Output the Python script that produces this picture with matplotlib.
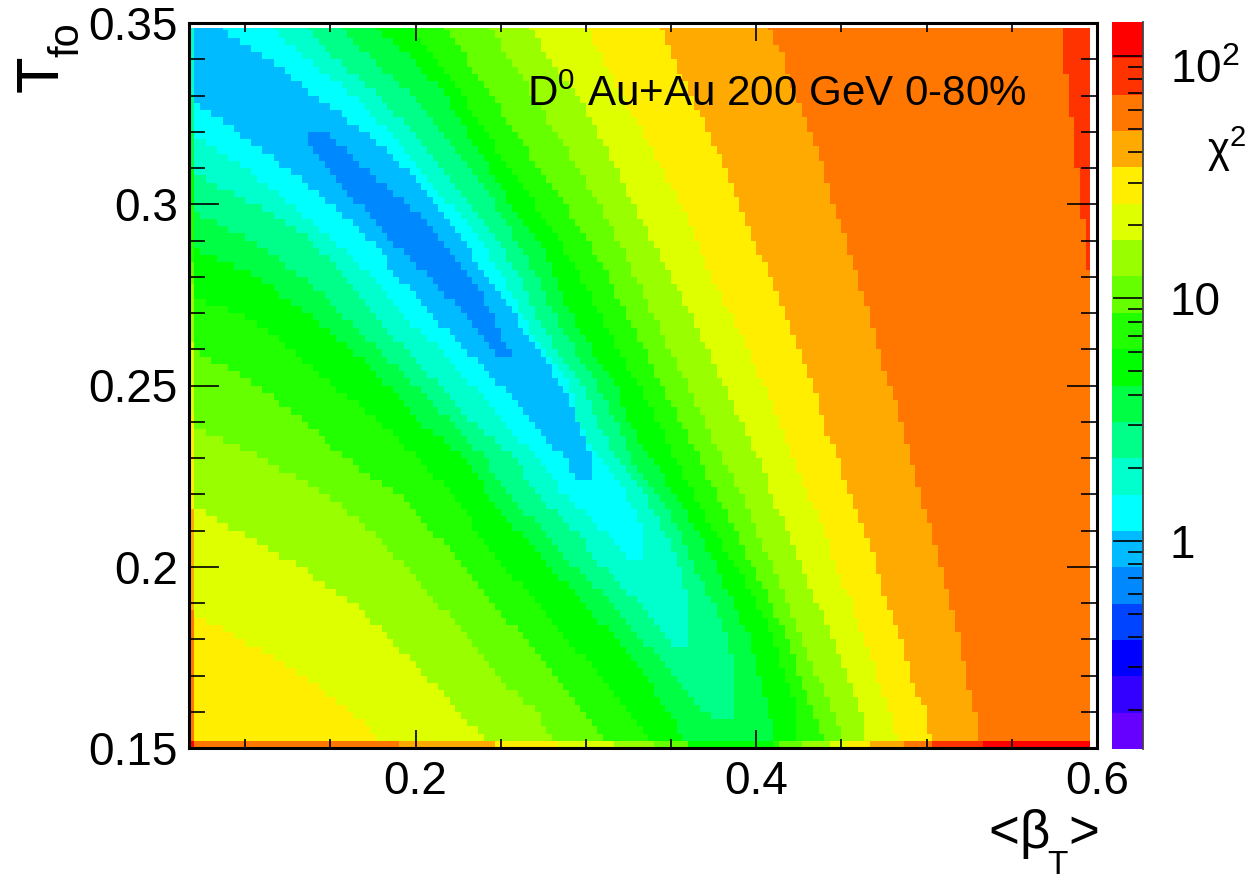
# Chi2 map of the blast-wave fit, D0 Au+Au 200 GeV
from matplotlib import pyplot as plt
from matplotlib.colors import ListedColormap
from matplotlib.path import Path
from matplotlib.ticker import FixedFormatter, FixedLocator, LogLocator, MultipleLocator, NullFormatter
import numpy as np

plt.rcParams['font.family'] = ['Liberation Sans', 'DejaVu Sans']
plt.rcParams['mathtext.fontset'] = 'custom'
plt.rcParams['mathtext.rm'] = 'Liberation Sans'
plt.rcParams['mathtext.it'] = 'Liberation Sans'
plt.rcParams['mathtext.bf'] = 'Liberation Sans'

# Colour bands of the palette, lowest chi2 first
band_colors = ['#6600ff', '#3300ff', '#0000ff', '#0044ff', '#0088ff', '#00bbff', '#00ffff',
               '#00ffcc', '#00ff88', '#00ff44', '#00ff00', '#22ff00', '#66ff00', '#99ff00',
               '#ddff00', '#ffee00', '#ffaa00', '#ff7700', '#ff3300', '#ff0000']
chi2_min = 0.138
chi2_max = 138.0

T_rows = [0.3486, 0.34, 0.33, 0.32, 0.31, 0.30, 0.29, 0.28, 0.27, 0.26, 0.25,
          0.24, 0.23, 0.22, 0.21, 0.20, 0.19, 0.18, 0.17, 0.16, 0.15]

# High beta side of each band, from the top row down
band16_right = [.4077, .4160, .4230, .4318, .4400, .4453, .4524, .4594, .4659, .4717, .4782,
                .4852, .4911, .4963, .5028, .5087, .5134, .5192, .5233, .5286, .5327]
band15_right = [.3445, .3521, .3615, .3714, .3814, .3908, .3984, .4090, .4160, .4254, .4342,
                .4389, .4477, .4553, .4641, .4706, .4764, .4846, .4905, .4993, .5034]
band14_right = [.3005, .3099, .3210, .3339, .3439, .3556, .3650, .3732, .3849, .3955, .4043,
                .4125, .4219, .4307, .4395, .4471, .4559, .4635, .4706, .4788, .4829]
band13_right = [.2670, .2782, .2958, .3063, .3175, .3280, .3385, .3497, .3609, .3708, .3808,
                .3908, .4013, .4090, .4178, .4266, .4359, .4459, .4530, .4612, .4659]
band12_right = [.2436, .2559, .2694, .2817, .2952, .3081, .3187, .3292, .3392, .3491, .3597,
                .3697, .3802, .3914, .4002, .4096, .4184, .4266, .4359, .4453, .4541]
band11_right = [.2172, .2301, .2442, .2582, .2723, .2870, .3011, .3134, .3228, .3339, .3450,
                .3556, .3661, .3767, .3873, .3978, .4084, .4184, .4254, .4330, .4407]
band10_right = [.1984, .2102, .2272, .2412, .2553, .2699, .2840, .2969, .3081, .3187, .3310,
                .3421, .3526, .3638, .3744, .3878, .4007, .4096, .4172, .4236, .4236]
band9_right = [.1773, .1978, .2178, .2301, .2430, .2559, .2729, .2817, .2911, .3034, .3181,
               .3251, .3380, .3526, .3655, .3767, .3861, .3960, .4019, .4078, .4131]
band8_right = [.1567, .1744, .1978, .2166, .2330, .2465, .2594, .2711, .2805, .2934, .3063,
               .3181, .3263, .3433, .3544, .3638, .3750, .3832, .3885, .3861]
band7_right = [.1369, .1533, .1780, .1978, .2149, .2319, .2483, .2612, .2700, .2829, .2976,
               .3069, .3169, .3339, .3456, .3550, .3609, .3609]
band6_right = [.1164, .1369, .1633, .1838, .2014, .2201, .2383, .2506, .2624, .2741, .2905,
               .2952, .3075, .3233, .3350]
band5_right = [.0855, .1151, .1404, .1703, .1931, .2125, .2289, .2406, .2576, .2706, .2864,
               .2952, .3040]

# Low beta side of each band: first value is where it leaves the left edge
band14_left = [.0705, .0981, .1339, .1627, .1850]
band13_left = [.0705, .0951, .1321, .1633, .1849, .2066, .2236, .2476]
band12_left = [.0705, .1099, .1486, .1738, .1937, .2125, .2330, .2483, .2706, .2817]
band11_left = [.0705, .1081, .1351, .1586, .1902, .2096, .2278, .2453, .2641, .2817, .2982, .3128]
band10_left = [.0705, .0974, .1274, .1521, .1791, .2008, .2224, .2359, .2529, .2705, .2893,
               .3081, .3257, .3433]
band9_left = [.0705, .1069, .1362, .1621, .1832, .2019, .2289, .2430, .2600, .2788, .2982,
              .3175, .3345, .3480, .3609]
band8_left = [.0705, .1028, .1345, .1556, .1785, .2002, .2213, .2406, .2541, .2753, .2934,
              .3151, .3327, .3532, .3696]
band7_left = [.0705, .1058, .1386, .1586, .1749, .1937, .2142, .2330, .2576, .2717, .2934,
              .3099, .3310, .3468]
band6_left = [.0705, .0999, .1268, .1515, .1749, .1902, .2142, .2336, .2500, .2717, .2864, .3104]
band5_left = [.0705, .0946, .1245, .1497, .1738, .1896, .2084, .2289, .2500, .2676, .2870]
left_start_T = {14: .1867, 13: .2166, 12: .2387, 11: .2599, 10: .2737, 9: .2876,
                8: .2981, 7: .3083, 6: .3185, 5: .3285}

# Closing point of the bands that end inside the map: T, beta right, beta left
band8_tip = [.1583, .3861, .3743]
band7_tip = [.1785, .3585, .3540]
band6_tip = [.2011, .3350, .3286]
band5_tip = [.2249, .3040, .2946]

# Innermost band, T from 0.32 to 0.26
band4_right = [.1475, .1697, .1955, .2166, .2319, .2448, .2542]
band4_left = [.1339, .1474, .1668, .1855, .2072, .2283, .2441]
band4_tip = [.2578, .2570, .2506]

# Red strip on the right: T top, T bottom, beta where it starts
strip_T_top = [.3486, .3367, .3243, .3102, .2959]
strip_T_bottom = [.3367, .3243, .3102, .2959, .2818]
strip_beta = [.5790, .5819, .5860, .5890, .5931]

# First column and bottom row have their own bands
col0_bands = [7, 8, 9, 10, 11, 12, 13, 14, 15, 16, 17]
col0_T_bottom = [.3290, .3193, .3097, .3000, .2848, .2779, .2613, .2414, .2166, .1887, .1520]
row0_bands = [19, 17, 16, 15, 14, 13, 12, 10, 11, 12, 13, 14, 15, 16, 17, 18, 19]
row0_beta_right = [.0705, .1908, .2477, .2846, .3151, .3385, .3608, .4107, .4137,
                   .4283, .4418, .4547, .4682, .4858, .5046, .5322, .6000]

xmin_fill = 0.05
right_edges = {16: band16_right, 15: band15_right, 14: band14_right, 13: band13_right,
               12: band12_right, 11: band11_right, 10: band10_right, 9: band9_right,
               8: band8_right, 7: band7_right, 6: band6_right, 5: band5_right}
left_edges = {14: band14_left, 13: band13_left, 12: band12_left, 11: band11_left,
              10: band10_left, 9: band9_left, 8: band8_left, 7: band7_left,
              6: band6_left, 5: band5_left}
tips = {8: band8_tip, 7: band7_tip, 6: band6_tip, 5: band5_tip}


def band_outline(k):
    right = right_edges[k]
    rows = T_rows[:len(right)]
    pts = list(zip(right, rows))
    if k in tips:
        pts += [(tips[k][1], tips[k][0]), (tips[k][2], tips[k][0])]
    if k in left_edges:
        left = left_edges[k]
        left_rows = [left_start_T[k]] + rows[-(len(left) - 1):]
        pts += list(zip(left, left_rows))[::-1]
        pts.append((xmin_fill, left_start_T[k]))
    else:
        pts.append((xmin_fill, T_rows[-1]))
    pts.append((xmin_fill, T_rows[0]))
    return pts


# Histogram cells
beta_edges = np.append(np.arange(0, 159) * 0.003333 + 0.0667, 0.5957)
T_edges = np.append(np.arange(0, 100) * 0.002 + 0.15, 0.3486)
beta_mid = 0.5 * (beta_edges[:-1] + beta_edges[1:])
T_mid = 0.5 * (T_edges[:-1] + T_edges[1:])
bb, tt = np.meshgrid(beta_mid, T_mid)
cell_pts = np.column_stack([bb.ravel(), tt.ravel()])

grid = np.full(bb.shape, 17)
for k in range(16, 4, -1):
    inside = Path(band_outline(k)).contains_points(cell_pts).reshape(bb.shape)
    grid[inside] = k

rows4 = T_rows[3:3 + len(band4_right)]
outline4 = list(zip(band4_right, rows4)) + [(band4_tip[1], band4_tip[0]), (band4_tip[2], band4_tip[0])] \
    + list(zip(band4_left, rows4))[::-1]
grid[Path(outline4).contains_points(cell_pts).reshape(bb.shape)] = 4

for top, bottom, start in zip(strip_T_top, strip_T_bottom, strip_beta):
    grid[(tt < top) & (tt >= bottom) & (bb >= start)] = 18

# First column
T_top = T_rows[0]
for band, bottom in zip(col0_bands, col0_T_bottom):
    grid[(T_mid < T_top) & (T_mid >= bottom), 0] = band
    T_top = bottom

# Bottom row
b_left = 0.0
for band, b_right in zip(row0_bands, row0_beta_right):
    grid[0, (beta_mid >= b_left) & (beta_mid < b_right)] = band
    b_left = b_right

# Plotting
W, H = 1252, 882
fig = plt.figure(figsize=(W / 100, H / 100), dpi=100)
ax = fig.add_axes([189 / W, (H - 748) / H, (1097 - 189) / W, (748 - 23) / H])
cmap = ListedColormap(band_colors)
ax.pcolormesh(beta_edges, T_edges, grid, cmap=cmap, vmin=-0.5, vmax=19.5, linewidth=0, rasterized=True)
ax.set_xlim(0.067, 0.6)
ax.set_ylim(0.15, 0.35)

ax.xaxis.set_major_locator(FixedLocator([0.2, 0.4, 0.6]))
ax.xaxis.set_major_formatter(FixedFormatter(['0.2', '0.4', '0.6']))
ax.xaxis.set_minor_locator(MultipleLocator(0.05))
ax.yaxis.set_major_locator(FixedLocator([0.15, 0.2, 0.25, 0.3, 0.35]))
ax.yaxis.set_major_formatter(FixedFormatter(['0.15', '0.2', '0.25', '0.3', '0.35']))
ax.yaxis.set_minor_locator(MultipleLocator(0.01))
ax.tick_params(axis='x', which='major', direction='in', top=True, length=13, width=1.2, labelsize=33, pad=9)
ax.tick_params(axis='x', which='minor', direction='in', top=True, length=6.5, width=1.2)
ax.tick_params(axis='y', which='major', direction='in', right=True, length=21.5, width=1.2, labelsize=33, pad=8)
ax.tick_params(axis='y', which='minor', direction='in', right=True, length=11.5, width=1.2)
for spine in ax.spines.values():
    spine.set_linewidth(2.2)

ax.text(0.2653, 0.3271, 'D$^{0}$ Au+Au 200 GeV 0-80%', fontsize=30.3, color='black', ha='left', va='baseline')

# Axis titles, the subscripts sit lower than mathtext puts them
fig.text(70 / W, 1 - 74 / H, 'T', fontsize=43, rotation=90, ha='right', va='center')
fig.text(87 / W, 1 - 40 / H, 'fo', fontsize=30, rotation=90, ha='right', va='center')
fig.text(988 / W, 1 - 848 / H, '<', fontsize=38, ha='left', va='baseline')
fig.text(1019 / W, 1 - 848 / H, 'β', fontsize=38, ha='left', va='baseline')
fig.text(1057 / W, 1 - 874 / H, 'T', fontsize=24, ha='center', va='baseline')
fig.text(1099 / W, 1 - 848 / H, '>', fontsize=38, ha='right', va='baseline')

# Colour scale
cax = fig.add_axes([1112 / W, (H - 749) / H, (1143 - 1112) / W, (749 - 22) / H])
levels = np.geomspace(chi2_min, chi2_max, 21)
cax.pcolormesh([0, 1], levels, np.arange(20).reshape(-1, 1), cmap=cmap, vmin=-0.5, vmax=19.5)
cax.set_yscale('log')
cax.set_ylim(chi2_min, chi2_max)
cax.set_xticks([])
cax.yaxis.set_major_locator(FixedLocator([1, 10, 100]))
cax.yaxis.set_major_formatter(FixedFormatter(['1', '10', '']))
cax.yaxis.set_minor_locator(LogLocator(base=10, subs=np.arange(2, 10), numticks=12))
cax.yaxis.set_minor_formatter(NullFormatter())
cax.tick_params(axis='y', which='major', direction='in', left=False, right=True, labelleft=False,
                labelright=True, length=21.5, width=1.2, labelsize=33, pad=19)
cax.tick_params(axis='y', which='minor', direction='in', left=False, right=True, length=11, width=1.2)
for side in ['left', 'top', 'bottom']:
    cax.spines[side].set_visible(False)
cax.spines['right'].set_linewidth(1.3)
cax.spines['right'].set_color('#444444')
fig.text(1170 / W, 1 - 83 / H, '10$^{2}$', fontsize=33, ha='left', va='baseline')
fig.text(1207 / W, 1 - 163 / H, r'$\mathrm{χ^{2}}$', fontsize=30, ha='left', va='baseline')

plt.savefig('out.png', dpi=100)
